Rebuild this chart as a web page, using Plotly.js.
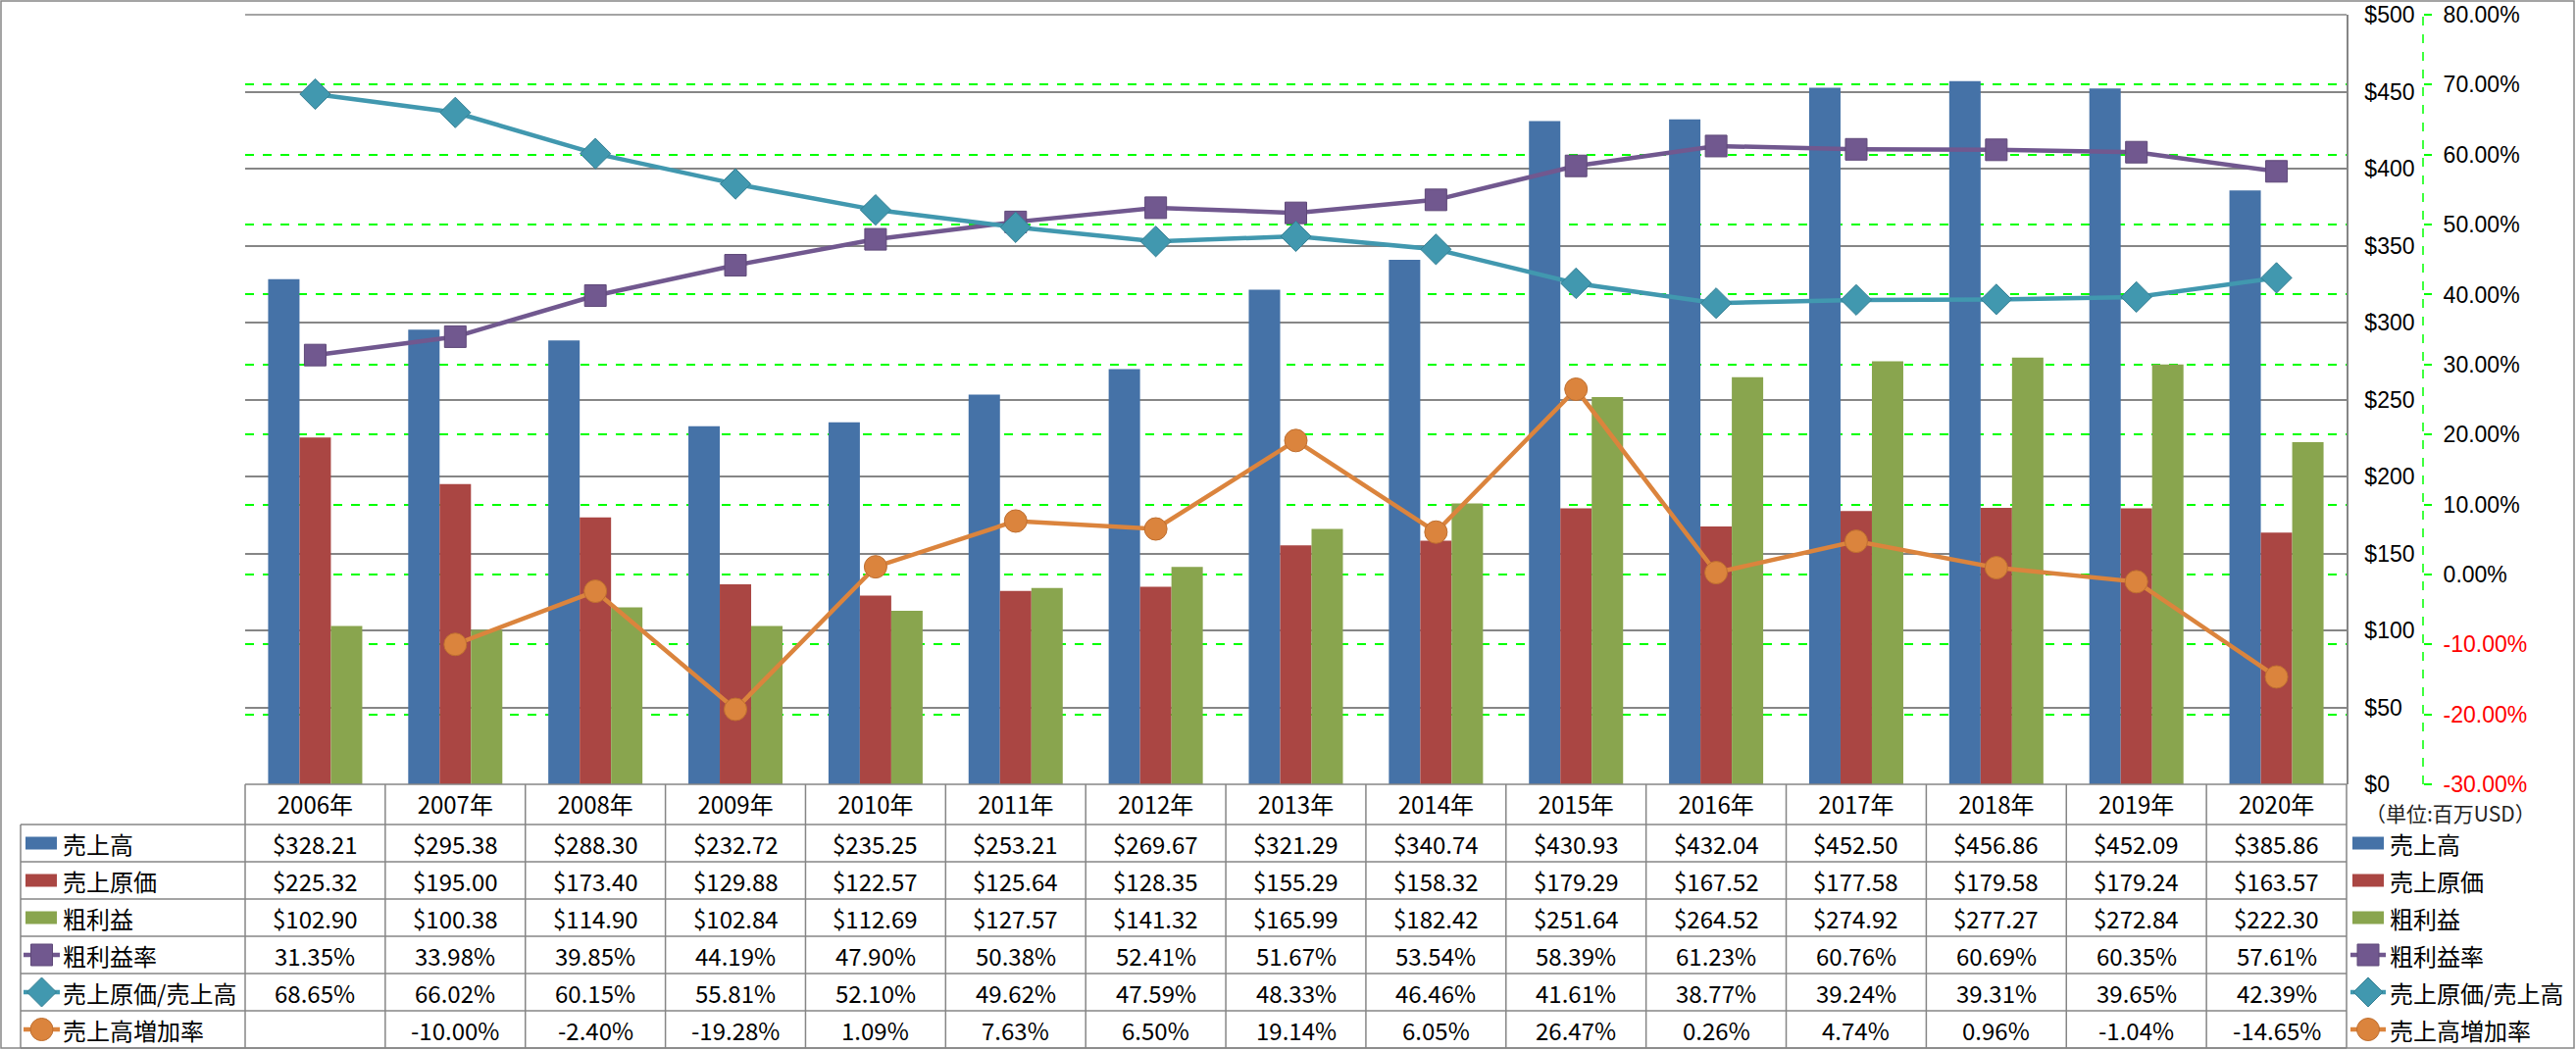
<!DOCTYPE html>
<html>
<head>
<meta charset="utf-8">
<script src="https://cdn.plot.ly/plotly-3.0.1.min.js"></script>
<style>
  html, body { margin: 0; padding: 0; background: #ffffff; }
  #chart { width: 2627px; height: 1071px; }
</style>
</head>
<body>
<div id="chart"></div>
<script>
// ---------------- DATA ----------------
const years = ['2006年','2007年','2008年','2009年','2010年','2011年','2012年','2013年','2014年','2015年','2016年','2017年','2018年','2019年','2020年'];
const sales = [328.21, 295.38, 288.30, 232.72, 235.25, 253.21, 269.67, 321.29, 340.74, 430.93, 432.04, 452.50, 456.86, 452.09, 385.86];
const cogs = [225.32, 195.00, 173.40, 129.88, 122.57, 125.64, 128.35, 155.29, 158.32, 179.29, 167.52, 177.58, 179.58, 179.24, 163.57];
const grossProfit = [102.90, 100.38, 114.90, 102.84, 112.69, 127.57, 141.32, 165.99, 182.42, 251.64, 264.52, 274.92, 277.27, 272.84, 222.30];
const grossMarginPct = [31.35, 33.98, 39.85, 44.19, 47.90, 50.38, 52.41, 51.67, 53.54, 58.39, 61.23, 60.76, 60.69, 60.35, 57.61];
const cogsRatioPct = [68.65, 66.02, 60.15, 55.81, 52.10, 49.62, 47.59, 48.33, 46.46, 41.61, 38.77, 39.24, 39.31, 39.65, 42.39];
const salesGrowthPct = [null, -10.00, -2.40, -19.28, 1.09, 7.63, 6.50, 19.14, 6.05, 26.47, 0.26, 4.74, 0.96, -1.04, -14.65];
const seriesNames = ['売上高','売上原価','粗利益','粗利益率','売上原価/売上高','売上高増加率'];
const usdTicks = [0, 50, 100, 150, 200, 250, 300, 350, 400, 450, 500];
const pctTicks = [-30, -20, -10, 0, 10, 20, 30, 40, 50, 60, 70, 80];
const unitNote = '（単位:百万USD）';

// ---------------- STYLE / LAYOUT GEOMETRY ----------------
const W = 2627, H = 1071;
const plotL = 250, plotR = 2393, plotT = 15, plotB = 800;
const axis2X = 2471;
const tableTop = 800, headerBottom = 841, rowH = 38, tableLeft = 21;
const colors = ['#4572A7', '#AA4643', '#89A54E', '#71588F', '#4198AF', '#DB843D'];
const markerEdge = ['', '', '', '#5E4878', '#357F93', '#BF6F30'];
const gridGray = '#868686';
const green = '#00FF00';
const FONT = '"Noto Sans CJK JP", "Noto Sans", sans-serif';
const AXFONT = '"Liberation Sans", Arial, sans-serif';

const X = px => px / W;
const Y = py => 1 - py / H;

// ---------------- TRACES ----------------
const barSeries = [sales, cogs, grossProfit];
const lineSeries = [grossMarginPct, cogsRatioPct, salesGrowthPct];
const lineSymbols = ['square', 'diamond', 'circle'];
const lineSizes = [22, 24, 23];

const traces = [];
barSeries.forEach((vals, i) => {
  traces.push({
    type: 'bar', name: seriesNames[i], x: years, y: vals,
    marker: { color: colors[i] }, xaxis: 'x', yaxis: 'y',
    hovertemplate: '%{x}: $%{y:.2f}<extra>' + seriesNames[i] + '</extra>'
  });
});
lineSeries.forEach((vals, j) => {
  const i = j + 3;
  traces.push({
    type: 'scatter', mode: 'lines+markers', name: seriesNames[i], x: years, y: vals,
    line: { color: colors[i], width: 4.5 },
    marker: { symbol: lineSymbols[j], size: lineSizes[j], color: colors[i], line: { color: markerEdge[i], width: 1 } },
    xaxis: 'x', yaxis: 'y2', cliponaxis: false,
    hovertemplate: '%{x}: %{y:.2f}%<extra>' + seriesNames[i] + '</extra>'
  });
});

// ---------------- SHAPES & ANNOTATIONS ----------------
const shapes = [];
const annotations = [];
const lineGray = { color: gridGray, width: 1.5 };

// outer chart border
shapes.push({ type: 'rect', xref: 'paper', yref: 'paper', x0: X(1), x1: X(W - 2), y0: Y(1), y1: Y(H - 2), line: lineGray, fillcolor: 'rgba(0,0,0,0)', layer: 'below' });

// top edge of plot area (gridline at the range maximum)
shapes.push({ type: 'line', xref: 'paper', yref: 'paper', x0: X(plotL), x1: X(plotR), y0: Y(plotT), y1: Y(plotT), line: lineGray, layer: 'below' });

// secondary axis dashed green line
shapes.push({ type: 'line', xref: 'paper', yref: 'paper', x0: X(axis2X), x1: X(axis2X), y0: Y(plotB), y1: Y(plotT), line: { color: green, width: 1.5, dash: 'dash' } });

// table geometry derived from the category axis
const N = years.length;
const colX = k => plotL + k * (plotR - plotL) / N;
const nRows = 6;
const rowTop = r => headerBottom + r * rowH;
const rowMid = r => headerBottom + (r + 0.5) * rowH;
const tableBottom = rowTop(nRows);

// horizontal table lines
shapes.push({ type: 'line', xref: 'paper', yref: 'paper', x0: X(plotL), x1: X(plotR), y0: Y(tableTop), y1: Y(tableTop), line: lineGray });
for (let r = 0; r <= nRows; r++) {
  shapes.push({ type: 'line', xref: 'paper', yref: 'paper', x0: X(tableLeft), x1: X(plotR), y0: Y(rowTop(r)), y1: Y(rowTop(r)), line: lineGray });
}
// vertical table lines
shapes.push({ type: 'line', xref: 'paper', yref: 'paper', x0: X(tableLeft), x1: X(tableLeft), y0: Y(headerBottom), y1: Y(tableBottom), line: lineGray });
for (let k = 0; k <= N; k++) {
  shapes.push({ type: 'line', xref: 'paper', yref: 'paper', x0: X(colX(k)), x1: X(colX(k)), y0: Y(tableTop), y1: Y(tableBottom), line: lineGray });
}

// table cell texts
const fmtUsd = v => (v === null ? '' : '$' + v.toFixed(2));
const fmtPct = v => (v === null ? '' : v.toFixed(2) + '%');
const tableRows = [
  { vals: sales, fmt: fmtUsd }, { vals: cogs, fmt: fmtUsd }, { vals: grossProfit, fmt: fmtUsd },
  { vals: grossMarginPct, fmt: fmtPct }, { vals: cogsRatioPct, fmt: fmtPct }, { vals: salesGrowthPct, fmt: fmtPct }
];
tableRows.forEach((row, r) => {
  row.vals.forEach((v, c) => {
    const t = row.fmt(v);
    if (!t) return;
    annotations.push({ xref: 'x', yref: 'paper', x: years[c], y: Y(rowMid(r)), text: t, showarrow: false,
      xanchor: 'center', yanchor: 'middle', font: { family: FONT, size: 24, color: '#000' } });
  });
});

// legend symbol helper
function symbol(i, cx, cy, left, right, swL, swR) {
  if (i < 3) {
    shapes.push({ type: 'rect', xref: 'paper', yref: 'paper', x0: X(swL), x1: X(swR), y0: Y(cy + 6.5), y1: Y(cy - 6.5), fillcolor: colors[i], line: { width: 0 } });
    return;
  }
  shapes.push({ type: 'line', xref: 'paper', yref: 'paper', x0: X(left), x1: X(right), y0: Y(cy), y1: Y(cy), line: { color: colors[i], width: 4.5 } });
  const base = { xref: 'paper', yref: 'paper', xsizemode: 'pixel', ysizemode: 'pixel', xanchor: X(cx), yanchor: Y(cy),
    fillcolor: colors[i], line: { color: markerEdge[i], width: 1 } };
  if (i === 3) shapes.push(Object.assign({ type: 'rect', x0: -11, x1: 11, y0: -11, y1: 11 }, base));
  if (i === 4) shapes.push(Object.assign({ type: 'path', path: 'M0,-15 L15,0 L0,15 L-15,0 Z' }, base));
  if (i === 5) shapes.push(Object.assign({ type: 'circle', x0: -11.5, x1: 11.5, y0: -11.5, y1: 11.5 }, base));
}

// row labels (table) and right-hand legend
seriesNames.forEach((name, i) => {
  const cy = rowMid(i);
  symbol(i, 42.5, cy, 24, 61, 26, 58);
  annotations.push({ xref: 'paper', yref: 'paper', x: X(62), y: Y(cy), text: name, showarrow: false,
    xanchor: 'left', yanchor: 'middle', font: { family: FONT, size: 24, color: '#000' } });
  symbol(i, 2415, cy, 2397, 2433, 2399, 2431);
  annotations.push({ xref: 'paper', yref: 'paper', x: X(2435), y: Y(cy), text: name, showarrow: false,
    xanchor: 'left', yanchor: 'middle', font: { family: FONT, size: 24, color: '#000' } });
});

// unit note
annotations.push({ xref: 'paper', yref: 'paper', x: X(2410), y: Y(829), text: unitNote, showarrow: false,
  xanchor: 'left', yanchor: 'middle', font: { family: FONT, size: 21, color: '#222' } });

// ---------------- LAYOUT ----------------
const pctText = pctTicks.map(v => v < 0
  ? '<span style="color:#FF0000">' + v.toFixed(2) + '%</span>'
  : v.toFixed(2) + '%');

const layout = {
  width: W, height: H, autosize: false,
  margin: { l: 0, r: 0, t: 0, b: 0, pad: 0 },
  paper_bgcolor: '#ffffff', plot_bgcolor: 'rgba(0,0,0,0)',
  showlegend: false,
  barmode: 'group', bargap: 0.328, bargroupgap: 0,
  font: { family: FONT, size: 24, color: '#000' },
  xaxis: {
    domain: [X(plotL), X(plotR)], type: 'category', categoryorder: 'array', categoryarray: years,
    range: [-0.5, N - 0.5], showgrid: false, zeroline: false, showline: false, ticks: '',
    tickfont: { family: FONT, size: 24, color: '#000' }, ticklabelstandoff: 5, anchor: 'y', fixedrange: true
  },
  yaxis: {
    domain: [Y(plotB), Y(plotT)], range: [0, 500], side: 'right', anchor: 'x',
    tickvals: usdTicks, ticktext: usdTicks.map(v => '$' + v),
    showgrid: true, gridcolor: gridGray, gridwidth: 1.5, zeroline: false,
    showline: true, linecolor: gridGray, linewidth: 1.5, ticks: '',
    ticklabeloverflow: 'allow',
    tickfont: { family: AXFONT, size: 23, color: '#000' }, ticklabelstandoff: 12, fixedrange: true
  },
  yaxis2: {
    overlaying: 'y', side: 'right', anchor: 'free', position: X(axis2X), range: [-30, 80],
    tickvals: pctTicks, ticktext: pctText,
    showgrid: true, gridcolor: green, gridwidth: 1.5, griddash: 'dash', zeroline: false,
    showline: false, ticks: 'outside', ticklen: 8, tickcolor: green, tickwidth: 1.5,
    ticklabeloverflow: 'allow',
    tickfont: { family: AXFONT, size: 23, color: '#000' }, ticklabelstandoff: 7, fixedrange: true
  },
  shapes: shapes,
  annotations: annotations
};

Plotly.newPlot('chart', traces, layout, { displayModeBar: false, staticPlot: false });
</script>
</body>
</html>
